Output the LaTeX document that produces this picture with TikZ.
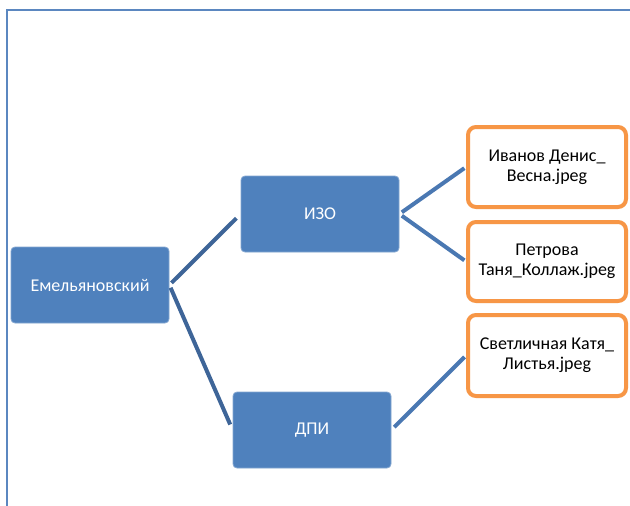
\documentclass[tikz,border=0pt]{standalone}
\usepackage{fontspec}
\setmainfont{Carlito}
\definecolor{boxblue}{HTML}{4F81BD}
\definecolor{linedark}{HTML}{3E6598}
\definecolor{linelight}{HTML}{4A78B2}
\definecolor{orng}{HTML}{F79646}
\definecolor{framec}{HTML}{5B87C0}
\tikzset{
  bluebox/.style={draw=boxblue!70!white, line width=0.8pt, fill=boxblue, rounded corners=4pt,
    minimum width=158pt, minimum height=76pt, inner sep=0pt, text=white,
    font=\fontsize{18pt}{20pt}\selectfont},
  orangebox/.style={draw=orng, line width=4pt, fill=white, rounded corners=8pt,
    minimum width=158pt, inner sep=0pt, text=black, align=center,
    font=\fontsize{18pt}{20pt}\selectfont},
  conn/.style={line width=4pt},
}
\begin{document}
\begin{tikzpicture}[x=1pt,y=-1pt]
\useasboundingbox (0,0) rectangle (630,506);
\fill[white] (0,0) rectangle (630,506);
\draw[framec, line width=2pt] (7,506) coordinate (fb) -- (7,10) coordinate (fc) -- (631,10) coordinate (fr);
\node[bluebox] (em) at (90,285) {Емельяновский};
\node[bluebox] (izo) at (320,214) {ИЗО};
\node[bluebox] (dpi) at (312,430) {ДПИ};
\node[orangebox, minimum height=80pt] (o1) at (547,167) {Иванов Денис\_\\Весна.jpeg};
\node[orangebox, minimum height=79pt] (o2) at (547,261.5) {Петрова\\Таня\_Коллаж.jpeg};
\node[orangebox, minimum height=81pt] (o3) at (547,355.5) {Светличная Катя\_\\Листья.jpeg};
\draw[conn, linedark, shorten <=3pt, shorten >=6pt] (em.east) -- (izo.west);
\draw[conn, linedark, shorten <=3pt, shorten >=6pt] (em.east) -- (dpi.west);
\draw[conn, linelight, shorten <=3pt, shorten >=2pt] (izo.east) -- (o1.west);
\draw[conn, linelight, shorten <=3pt, shorten >=2pt] (izo.east) -- (o2.west);
\draw[conn, linelight, shorten <=4pt, shorten >=2pt] (dpi.east) -- (o3.west);
\end{tikzpicture}
\end{document}
